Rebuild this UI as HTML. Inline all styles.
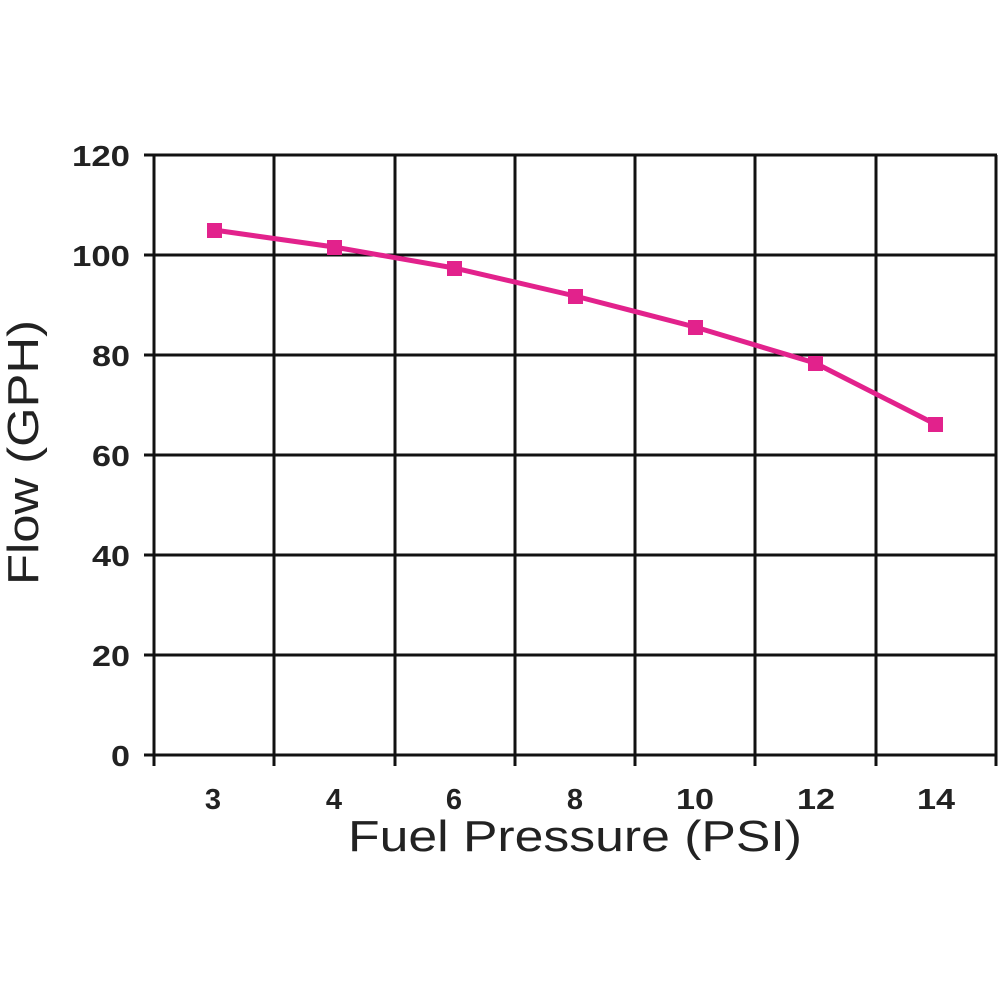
<!DOCTYPE html>
<html><head><style>body{margin:0;background:#fff}</style></head><body>
<svg width="1000" height="1000" xmlns="http://www.w3.org/2000/svg" font-family="Liberation Sans, Arial, sans-serif">
<rect width="1000" height="1000" fill="#fff"/>
<g stroke="#111" stroke-width="3">
<line x1="144" y1="155" x2="997" y2="155"/>
<line x1="144" y1="255" x2="997" y2="255"/>
<line x1="144" y1="355" x2="997" y2="355"/>
<line x1="144" y1="455" x2="997" y2="455"/>
<line x1="144" y1="555" x2="997" y2="555"/>
<line x1="144" y1="655" x2="997" y2="655"/>
<line x1="144" y1="755" x2="997" y2="755"/>
<line x1="154" y1="155" x2="154" y2="766"/>
<line x1="274" y1="155" x2="274" y2="766"/>
<line x1="395" y1="155" x2="395" y2="766"/>
<line x1="515" y1="155" x2="515" y2="766"/>
<line x1="635" y1="155" x2="635" y2="766"/>
<line x1="755" y1="155" x2="755" y2="766"/>
<line x1="876" y1="155" x2="876" y2="766"/>
<line x1="996" y1="155" x2="996" y2="766"/>
</g>
<polyline points="214,230 334,247 454,268 575,296 695,327 815,363 935,424" fill="none" stroke="#e2228c" stroke-width="5"/>
<g fill="#e2228c">
<rect x="207" y="223" width="15" height="15"/><rect x="327" y="240" width="15" height="15"/><rect x="447" y="261" width="15" height="15"/><rect x="568" y="289" width="15" height="15"/><rect x="688" y="320" width="15" height="15"/><rect x="808" y="356" width="15" height="15"/><rect x="928" y="417" width="15" height="15"/>
</g>
<g font-size="29" font-weight="bold" fill="#222" text-anchor="end">
<text x="130" y="166" textLength="58" lengthAdjust="spacingAndGlyphs">120</text><text x="130" y="266" textLength="58" lengthAdjust="spacingAndGlyphs">100</text><text x="130" y="366" textLength="38" lengthAdjust="spacingAndGlyphs">80</text><text x="130" y="466" textLength="38" lengthAdjust="spacingAndGlyphs">60</text><text x="130" y="566" textLength="38" lengthAdjust="spacingAndGlyphs">40</text><text x="130" y="666" textLength="38" lengthAdjust="spacingAndGlyphs">20</text><text x="130" y="766" textLength="19" lengthAdjust="spacingAndGlyphs">0</text>
</g>
<g font-size="29" font-weight="bold" fill="#222" text-anchor="middle">
<text x="213" y="809">3</text><text x="334" y="809">4</text><text x="454" y="809">6</text><text x="575" y="809">8</text><text x="695" y="809" textLength="38" lengthAdjust="spacingAndGlyphs">10</text><text x="816" y="809" textLength="38" lengthAdjust="spacingAndGlyphs">12</text><text x="936" y="809" textLength="38" lengthAdjust="spacingAndGlyphs">14</text>
</g>
<text x="348" y="851" font-size="44" fill="#222" textLength="454" lengthAdjust="spacingAndGlyphs">Fuel Pressure (PSI)</text>
<text transform="translate(38,585) rotate(-90)" font-size="44" fill="#222" textLength="265" lengthAdjust="spacingAndGlyphs">Flow (GPH)</text>
</svg>
</body></html>
